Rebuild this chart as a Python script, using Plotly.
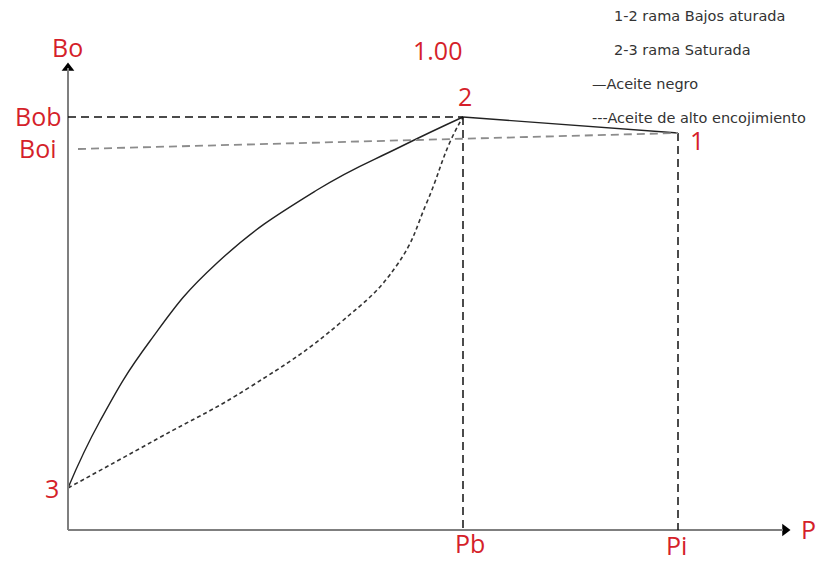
import plotly.graph_objects as go

# ---- data (schematic units) ----
black_oil_p = [0, 0.32, 0.82, 1.49, 2.49, 3.32, 3.95]
black_oil_bo = [0.42, 1.09, 1.89, 2.67, 3.40, 3.83, 4.13]

shrink_p = [0, 0.89, 1.82, 2.72, 3.29, 3.59, 3.82, 3.95]
shrink_bo = [0.42, 0.91, 1.43, 2.07, 2.65, 3.28, 3.88, 4.13]

under_p = [3.95, 6.10]
under_bo = [4.13, 3.97]

Pb = 3.95
Pi = 6.10
Bob = 4.13
Boi_line_p = [0.10, 6.10]
Boi_line_bo = [3.81, 3.97]

RED = "#d51f2a"
AX = "#7f7f7f"
FONT = "Open Sans"

fig = go.Figure()

# axes
fig.add_shape(type="line", x0=0, y0=0, x1=0, y1=4.62, line=dict(color=AX, width=2))
fig.add_shape(type="line", x0=0, y0=0, x1=7.15, y1=0, line=dict(color=AX, width=2))

# reference dashed lines
fig.add_shape(type="line", x0=0, y0=Bob, x1=Pb, y1=Bob, line=dict(color="#111", width=1.5, dash="8px,5px"))
fig.add_shape(type="line", x0=Pb, y0=Bob, x1=Pb, y1=0, line=dict(color="#111", width=1.5, dash="8px,5px"))
fig.add_shape(type="line", x0=Pi, y0=under_bo[1], x1=Pi, y1=0, line=dict(color="#111", width=1.5, dash="8px,5px"))
fig.add_shape(type="line", x0=Boi_line_p[0], y0=Boi_line_bo[0], x1=Boi_line_p[1], y1=Boi_line_bo[1],
              line=dict(color="#8c8c8c", width=1.8, dash="8px,5px"))

# curves
fig.add_trace(go.Scatter(x=black_oil_p, y=black_oil_bo, mode="lines",
                         line=dict(color="#222", width=1.4, shape="spline", smoothing=1.3), hoverinfo="skip"))
fig.add_trace(go.Scatter(x=shrink_p, y=shrink_bo, mode="lines",
                         line=dict(color="#333", width=1.6, shape="spline", smoothing=1.3, dash="4px,3px"),
                         hoverinfo="skip"))
fig.add_trace(go.Scatter(x=under_p, y=under_bo, mode="lines",
                         line=dict(color="#222", width=1.4), hoverinfo="skip"))

# arrowheads
fig.add_trace(go.Scatter(x=[0], y=[4.62], mode="markers",
                         marker=dict(symbol="triangle-up", size=11, color="black"), hoverinfo="skip"))
fig.add_trace(go.Scatter(x=[7.17], y=[0], mode="markers",
                         marker=dict(symbol="triangle-right", size=11, color="black"), hoverinfo="skip"))

labels = [
    ("Bo", -0.01, 4.83), ("Bob", -0.30, 4.14), ("Boi", -0.30, 3.82), ("3", -0.16, 0.42),
    ("1.00", 3.69, 4.80), ("2", 3.97, 4.34), ("1", 6.29, 3.90),
    ("Pb", 4.02, -0.13), ("Pi", 6.08, -0.15), ("P", 7.40, 0.01),
]
for t, x, y in labels:
    fig.add_annotation(x=x, y=y, text=t, showarrow=False, xanchor="center", yanchor="middle",
                       font=dict(family=FONT, size=25, color=RED))

legend_lines = [
    ("1-2 rama Bajos aturada", 5.44, 5.14),
    ("2-3 rama Saturada", 5.44, 4.80),
    ("\u2014Aceite negro", 5.22, 4.46),
    ("---Aceite de alto encojimiento", 5.22, 4.12),
]
for t, x, y in legend_lines:
    fig.add_annotation(x=x, y=y, text=t, showarrow=False, xanchor="left", yanchor="middle",
                       font=dict(family="DejaVu Sans", size=14.5, color="#333"))

fig.update_layout(
    width=822, height=561, margin=dict(l=0, r=0, t=0, b=0),
    paper_bgcolor="white", plot_bgcolor="white", showlegend=False,
    xaxis=dict(visible=False, range=[-0.68, 7.54], fixedrange=True),
    yaxis=dict(visible=False, range=[-0.31, 5.30], fixedrange=True),
)

# remove the browser's default 8px body margin so the figure fills the window exactly
fig.write_html("out.html",
               config={"displayModeBar": False},
               post_script="document.body.style.margin='0';document.documentElement.style.overflow='hidden';")
